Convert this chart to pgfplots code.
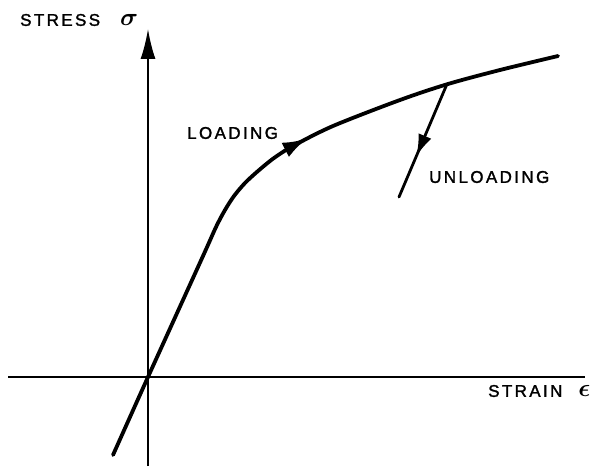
\documentclass[border=0pt]{standalone}
\usepackage{fontspec}
\setmainfont[LetterSpace=14,FakeBold=1.6]{Liberation Sans}
\usepackage{pgfplots}
\pgfplotsset{compat=1.18}
\usetikzlibrary{arrows.meta,decorations.markings}
\tikzset{lbl/.style={font=\fontsize{17}{20}\selectfont, inner sep=0pt, anchor=west}}
\newcommand{\sym}[1]{{\fontsize{24}{26}\selectfont\boldmath$#1$}}
\begin{document}
\begin{tikzpicture}
\begin{axis}[
  scale only axis, width=601pt, height=466pt,
  xmin=-148, xmax=453, ymin=-89, ymax=377,
  axis line style={draw=none}, ticks=none,
  clip=false,
]
% strain axis
\addplot[black, line width=1.8pt] coordinates {(-140,0) (437,0)};
% stress axis
\addplot[black, line width=1.8pt, -{Latex[length=30pt,width=15pt]}] coordinates {(0,-89) (0,348)};
% loading curve
\addplot[black, line width=3.8pt, smooth, line cap=round,
  postaction={decorate},
  decoration={markings, mark=at position 0.59 with {\arrow{Latex[length=25pt,width=16pt]}}}]
  coordinates {(-35,-78) (0,0) (55,121) (68,150) (77,167) (86,181) (97,194) (110,206) (126,219) (145,231) (185,251) (252,277) (300,293) (352,307) (410,321)};
% unloading line
\addplot[black, line width=2.8pt, line cap=round,
  postaction={decorate},
  decoration={markings, mark=at position 0.64 with {\arrow{Latex[length=22pt,width=14pt]}}}]
  coordinates {(299,293) (251,180)};
\node[lbl] at (axis cs:-128,357) {STRESS\hspace{20pt}\sym{\sigma}};
\node[lbl] at (axis cs:340,-14) {STRAIN\hspace{16pt}\sym{\epsilon}};
\node[lbl] at (axis cs:39,244) {LOADING};
\node[lbl] at (axis cs:281,200) {UNLOADING};
\end{axis}
\end{tikzpicture}
\end{document}
